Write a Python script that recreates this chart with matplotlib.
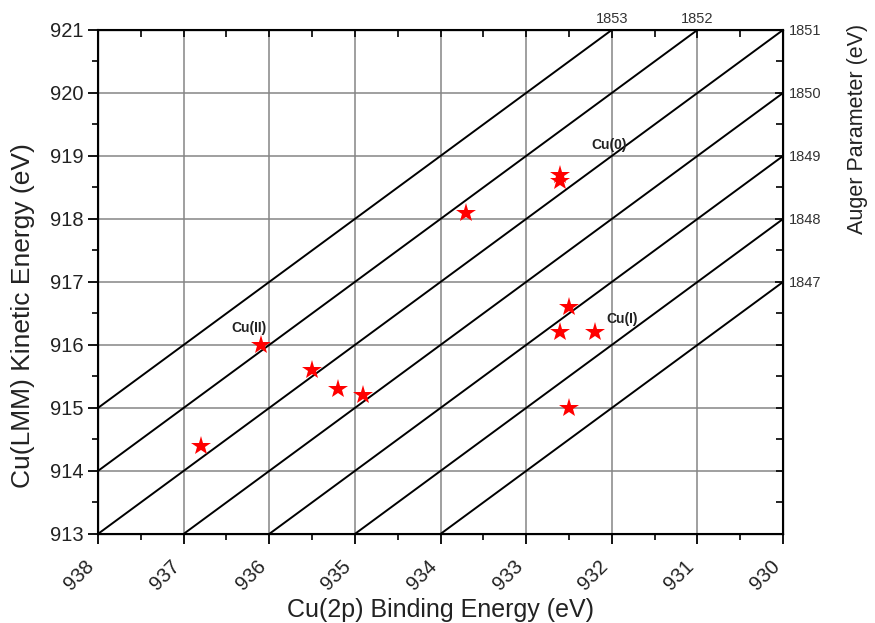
import numpy as np
import matplotlib
matplotlib.use("Agg")
import matplotlib.pyplot as plt
from matplotlib.ticker import MultipleLocator, FixedLocator

plt.rcParams['font.family'] = ['Liberation Sans', 'DejaVu Sans']

# Data
binding_energy = [936.8, 936.1, 935.5, 935.2, 934.9, 933.7, 932.6, 932.6, 932.5, 932.6, 932.2, 932.5]
kinetic_energy = [914.4, 916.0, 915.6, 915.3, 915.2, 918.1, 918.7, 918.6, 916.6, 916.2, 916.2, 915.0]
auger_params = [1847, 1848, 1849, 1850, 1851, 1852, 1853]
label_names = ["Cu(II)", "Cu(0)", "Cu(I)"]
label_be = [936.24, 932.03, 931.88]
label_ke = [916.27, 919.17, 916.41]
right_ticks_ke = [917, 918, 919, 920, 921]
right_labels = ["1847", "1848", "1849", "1850", "1851"]
top_ticks_be = [932, 931]
top_labels = ["1853", "1852"]

fig = plt.figure(figsize=(8.75, 6.23), dpi=100)
ax = fig.add_axes([0.112, 0.143, 0.783, 0.809])
ax.set_xlim(938, 930)
ax.set_ylim(913, 921)

ax.xaxis.set_major_locator(MultipleLocator(1))
ax.xaxis.set_minor_locator(MultipleLocator(0.5))
ax.yaxis.set_major_locator(MultipleLocator(1))
ax.yaxis.set_minor_locator(MultipleLocator(0.5))
ax.grid(True, which='major', color='#858585', linewidth=1.1, zorder=0)

for a in auger_params:
    xs = np.array([938.0, 930.0])
    ax.plot(xs, a - xs, color='black', linewidth=1.4, zorder=2)

ax.plot(binding_energy, kinetic_energy, linestyle='none', marker='*', color='#ff0000',
        markersize=15, markeredgewidth=0, zorder=4)

for name, bx, ky in zip(label_names, label_be, label_ke):
    ax.text(bx, ky, name, fontsize=10, fontweight='bold', ha='center', va='center',
            color='#222222', zorder=5)

ax.tick_params(axis='both', which='major', labelsize=14.5, direction='out', length=7, width=1.3,
               labelcolor='#222222')
ax.tick_params(axis='x', which='major', pad=9)
ax.tick_params(axis='both', which='minor', direction='out', length=4, width=1.2)
for lab in ax.get_xticklabels():
    lab.set_rotation(45)
    lab.set_ha('right')
for s in ax.spines.values():
    s.set_linewidth(1.5)

fig.text(440 / 875, 1 - 610 / 623, "Cu(2p) Binding Energy (eV)", fontsize=18,
         ha='center', va='center', color='#222222')
fig.text(23 / 875, 1 - 316 / 623, "Cu(LMM) Kinetic Energy (eV)", fontsize=19,
         ha='center', va='center', rotation=90, color='#222222')
fig.text(858 / 875, 1 - 129 / 623, "Auger Parameter (eV)", fontsize=15.5,
         ha='center', va='center', rotation=90, color='#222222')

# Top axis (Auger parameter along top)
axt = ax.twiny()
axt.set_xlim(938, 930)
axt.xaxis.set_major_locator(FixedLocator(top_ticks_be))
axt.set_xticklabels(top_labels)
axt.xaxis.set_minor_locator(MultipleLocator(0.5))
axt.tick_params(axis='x', which='major', direction='in', length=6, width=1.2, labelsize=10.5,
                pad=3, labelcolor='#333333')
axt.tick_params(axis='x', which='minor', direction='in', length=5, width=1.2)

# Right axis
axr = ax.twinx()
axr.set_ylim(913, 921)
axr.yaxis.set_major_locator(FixedLocator(right_ticks_ke))
axr.set_yticklabels(right_labels)
axr.yaxis.set_minor_locator(MultipleLocator(0.5))
axr.tick_params(axis='y', which='major', direction='in', length=6, width=1.2, labelsize=10.5,
                pad=4, labelcolor='#333333')
axr.tick_params(axis='y', which='minor', direction='in', length=5, width=1.2)

fig.savefig("out.png", dpi=100)
